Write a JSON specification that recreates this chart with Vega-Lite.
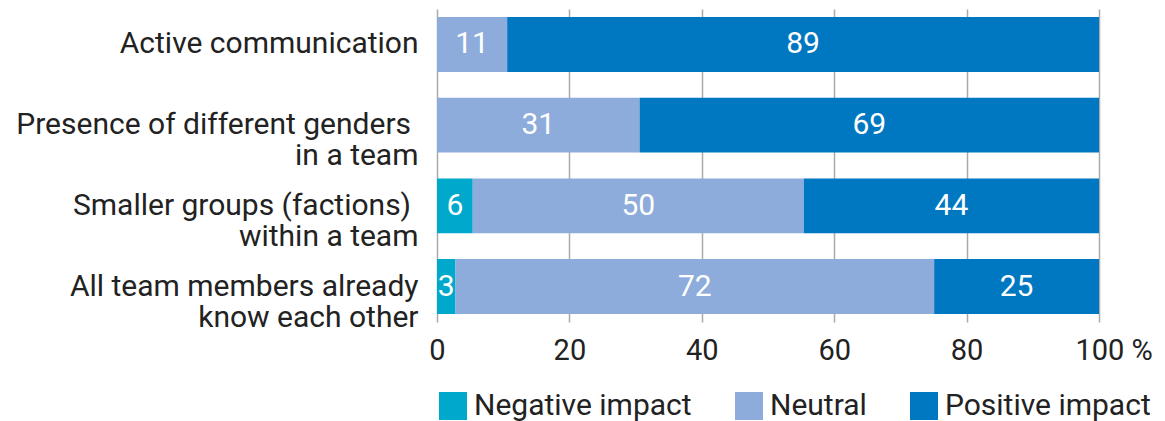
{
  "$schema": "https://vega.github.io/schema/vega-lite/v6.json",
  "width": 662,
  "height": 313,
  "autosize": {"type": "none"},
  "padding": {"left": 437, "top": 9, "right": 66, "bottom": 99},
  "config": {"font": "Roboto", "view": {"stroke": null}},
  "data": {
    "values": [
      {"cat": "Active communication", "impact": "Negative impact", "ord": 1, "value": 0, "label": ""},
      {"cat": "Active communication", "impact": "Neutral", "ord": 2, "value": 10.6, "label": "11"},
      {"cat": "Active communication", "impact": "Positive impact", "ord": 3, "value": 89.4, "label": "89"},
      {"cat": "Presence of different genders\u00a0\u200b|in a team", "impact": "Negative impact", "ord": 1, "value": 0, "label": ""},
      {"cat": "Presence of different genders\u00a0\u200b|in a team", "impact": "Neutral", "ord": 2, "value": 30.6, "label": "31"},
      {"cat": "Presence of different genders\u00a0\u200b|in a team", "impact": "Positive impact", "ord": 3, "value": 69.4, "label": "69"},
      {"cat": "Smaller groups (factions)\u00a0\u200b|within a team", "impact": "Negative impact", "ord": 1, "value": 5.4, "label": "6"},
      {"cat": "Smaller groups (factions)\u00a0\u200b|within a team", "impact": "Neutral", "ord": 2, "value": 50.0, "label": "50"},
      {"cat": "Smaller groups (factions)\u00a0\u200b|within a team", "impact": "Positive impact", "ord": 3, "value": 44.6, "label": "44"},
      {"cat": "All team members already|know each other", "impact": "Negative impact", "ord": 1, "value": 2.8, "label": "3"},
      {"cat": "All team members already|know each other", "impact": "Neutral", "ord": 2, "value": 72.3, "label": "72"},
      {"cat": "All team members already|know each other", "impact": "Positive impact", "ord": 3, "value": 24.9, "label": "25"}
    ]
  },
  "transform": [
    {"stack": "value", "groupby": ["cat"], "sort": [{"field": "ord"}], "as": ["x0", "x1"]},
    {"calculate": "(datum.x0 + datum.x1) / 2", "as": "mid"}
  ],
  "encoding": {
    "y": {
      "field": "cat",
      "type": "nominal",
      "sort": [
        "Active communication",
        "Presence of different genders\u00a0\u200b|in a team",
        "Smaller groups (factions)\u00a0\u200b|within a team",
        "All team members already|know each other"
      ],
      "scale": {"paddingInner": 0.32, "paddingOuter": 0.1},
      "axis": {
        "title": null,
        "domain": false,
        "ticks": false,
        "labelExpr": "split(datum.label, '|')",
        "labelFontSize": 30,
        "labelColor": "#222222",
        "labelPadding": 19,
        "labelLimit": 500,
        "labelLineHeight": 31
      }
    }
  },
  "layer": [
    {
      "mark": {"type": "bar"},
      "encoding": {
        "x": {
          "field": "x0",
          "type": "quantitative",
          "scale": {"domain": [0, 100], "nice": false},
          "axis": {
            "title": null,
            "values": [0, 20, 40, 60, 80, 100],
            "domain": false,
            "ticks": false,
            "grid": true,
            "gridColor": "#aaaaaa",
            "gridWidth": 1.5,
            "labelFontSize": 29,
            "labelColor": "#222222",
            "labelPadding": 14,
            "labelExpr": "datum.value == 100 ? '100 %' : datum.label",
            "labelAlign": {"condition": {"test": "datum.value == 100", "value": "left"}, "value": "center"},
            "labelOffset": {"condition": {"test": "datum.value == 100", "value": -24}, "value": 0}
          }
        },
        "x2": {"field": "x1"},
        "color": {
          "field": "impact",
          "type": "nominal",
          "scale": {
            "domain": ["Negative impact", "Neutral", "Positive impact"],
            "range": ["#00a8cc", "#8dacdb", "#0077c1"]
          },
          "legend": {
            "title": null,
            "orient": "none",
            "direction": "horizontal",
            "legendX": 1,
            "legendY": 382,
            "symbolType": "square",
            "symbolSize": 784,
            "symbolStrokeWidth": 0,
            "symbolOpacity": 1,
            "labelFontSize": 30,
            "labelColor": "#222222",
            "labelOffset": 6,
            "columnPadding": 42,
            "labelLimit": 400
          }
        }
      }
    },
    {
      "transform": [{"filter": "datum.value > 0"}],
      "mark": {"type": "text", "color": "white", "fontSize": 30, "baseline": "middle"},
      "encoding": {
        "x": {"field": "mid", "type": "quantitative"},
        "text": {"field": "label", "type": "nominal"}
      }
    }
  ]
}
